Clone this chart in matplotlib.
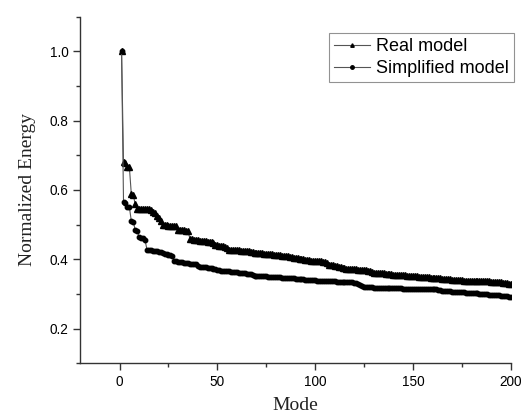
import numpy as np
import matplotlib
matplotlib.use("Agg")
import matplotlib.pyplot as plt
from matplotlib.ticker import MultipleLocator

# normalized energy per mode
real_model = [
    1.000, 0.680, 0.678, 0.667, 0.665, 0.587, 0.585, 0.558,
    0.546, 0.546, 0.545, 0.545, 0.545, 0.544, 0.544, 0.543,
    0.535, 0.533, 0.525, 0.520, 0.510,
    0.499, 0.498, 0.498, 0.497, 0.497, 0.496, 0.496, 0.495,
    0.485, 0.484, 0.484, 0.483, 0.482, 0.481,
    0.458, 0.457, 0.456, 0.455, 0.455, 0.454, 0.453, 0.453, 0.452, 0.451, 0.450, 0.449, 0.446,
    0.442, 0.440, 0.439, 0.438, 0.437, 0.436, 0.432,
    0.428, 0.428, 0.427, 0.427, 0.426, 0.426, 0.425, 0.425, 0.424, 0.424, 0.423, 0.422, 0.421,
    0.419, 0.419, 0.418, 0.418, 0.417, 0.416, 0.415, 0.415, 0.414, 0.414, 0.413, 0.413, 0.412, 0.412,
    0.410, 0.409, 0.409, 0.408, 0.407, 0.406, 0.405, 0.404, 0.403, 0.402, 0.401, 0.400, 0.399, 0.399, 0.398,
    0.396, 0.396, 0.395, 0.395, 0.394, 0.394, 0.393, 0.392, 0.390,
    0.384, 0.383, 0.382, 0.381, 0.380, 0.379, 0.378, 0.376,
    0.374, 0.373, 0.373, 0.372, 0.372, 0.371, 0.371, 0.370, 0.370, 0.369, 0.369, 0.368, 0.367, 0.365,
    0.362, 0.361, 0.361, 0.360, 0.360, 0.359, 0.359, 0.358, 0.358, 0.357, 0.357,
    0.356, 0.356, 0.355, 0.355, 0.355, 0.354, 0.354, 0.353, 0.353, 0.352, 0.352,
    0.351, 0.351, 0.350, 0.350, 0.349, 0.349, 0.348, 0.348, 0.347, 0.347,
    0.346, 0.346, 0.345, 0.345, 0.344, 0.344, 0.343, 0.343, 0.342, 0.341,
    0.339, 0.339, 0.339, 0.339, 0.339, 0.338, 0.338, 0.338, 0.338, 0.338, 0.338,
    0.337, 0.337, 0.337, 0.337, 0.337, 0.337, 0.336, 0.336, 0.335, 0.335,
    0.334, 0.334, 0.333, 0.333, 0.332, 0.332, 0.331, 0.330, 0.329,
]

simplified_model = [
    1.000, 0.565, 0.563, 0.552, 0.550, 0.510, 0.508, 0.484, 0.482,
    0.463, 0.462, 0.461, 0.455,
    0.428, 0.427, 0.426, 0.425, 0.424, 0.423, 0.421, 0.420, 0.418, 0.416, 0.415, 0.413, 0.412, 0.410,
    0.396, 0.395, 0.393, 0.392, 0.391, 0.390, 0.389, 0.388, 0.387, 0.387, 0.386, 0.385,
    0.380, 0.379, 0.378, 0.377, 0.377, 0.376, 0.375, 0.374, 0.373, 0.372, 0.370,
    0.368, 0.367, 0.367, 0.366, 0.366, 0.365, 0.364, 0.364, 0.363, 0.362,
    0.361, 0.360, 0.360, 0.359, 0.358, 0.357, 0.357, 0.356,
    0.353, 0.353, 0.352, 0.352, 0.352, 0.351, 0.351, 0.350, 0.350, 0.349,
    0.349, 0.349, 0.348, 0.348, 0.347, 0.347, 0.346, 0.346, 0.345, 0.345,
    0.345, 0.344, 0.344, 0.343, 0.342, 0.342,
    0.340, 0.340, 0.340, 0.339, 0.339, 0.339, 0.338, 0.338, 0.338, 0.338,
    0.337, 0.337, 0.337, 0.336, 0.336, 0.336, 0.335, 0.335, 0.335,
    0.334, 0.334, 0.334, 0.333, 0.333, 0.333, 0.332, 0.332,
    0.328, 0.325, 0.322, 0.321, 0.320, 0.320, 0.319, 0.319, 0.318,
    0.318, 0.318, 0.318, 0.317, 0.317, 0.317, 0.317, 0.317,
    0.316, 0.316, 0.316, 0.316, 0.316, 0.316, 0.315, 0.315, 0.315, 0.315, 0.315, 0.315,
    0.314, 0.314, 0.314, 0.314, 0.314, 0.314, 0.313, 0.313, 0.313, 0.313, 0.313, 0.313,
    0.312, 0.312,
    0.309, 0.309, 0.308, 0.308, 0.308, 0.307, 0.307, 0.306, 0.306, 0.306,
    0.305, 0.305, 0.304, 0.304, 0.304, 0.303, 0.303, 0.302, 0.302, 0.301,
    0.300, 0.300, 0.299, 0.299, 0.298, 0.298, 0.297, 0.297, 0.296, 0.296,
    0.295, 0.294, 0.294, 0.293, 0.292, 0.291,
]

series_labels = ["Real model", "Simplified model"]

fig = plt.figure(figsize=(5.22, 4.17), dpi=100)
ax = fig.add_axes([0.1542, 0.1288, 0.8242, 0.8316])

modes_real = np.arange(1, len(real_model) + 1)
modes_simp = np.arange(1, len(simplified_model) + 1)

ax.plot(modes_real, real_model, color="#555555", lw=0.8, marker="^", markersize=3.8,
        markerfacecolor="black", markeredgecolor="black", label=series_labels[0])
ax.plot(modes_simp, simplified_model, color="#555555", lw=0.8, marker="o", markersize=3.2,
        markerfacecolor="black", markeredgecolor="black", label=series_labels[1])

ax.set_xlim(-20, 200)
ax.set_ylim(0.1, 1.1)
ax.xaxis.set_minor_locator(MultipleLocator(25))
ax.yaxis.set_minor_locator(MultipleLocator(0.1))
ax.set_xticks([0, 50, 100, 150, 200])
ax.set_yticks([0.2, 0.4, 0.6, 0.8, 1.0])

for side in ["top", "right"]:
    ax.spines[side].set_visible(False)
for side in ["left", "bottom"]:
    ax.spines[side].set_color("#333333")
    ax.spines[side].set_linewidth(1.0)

ax.tick_params(which="major", direction="out", length=5, width=1, color="#333333",
               labelsize=9.8, labelcolor="#000000")
ax.tick_params(which="minor", direction="out", length=3, width=1, color="#333333")
for lab in ax.get_xticklabels() + ax.get_yticklabels():
    lab.set_family("Liberation Sans")

ax.set_xlabel("Mode", family="Liberation Serif", fontsize=14, color="#222222", labelpad=6)
ax.set_ylabel("Normalized Energy", family="Liberation Serif", fontsize=14, color="#222222",
              labelpad=10)

leg = ax.legend(loc="upper right", bbox_to_anchor=(514 / 522, 1 - 33 / 417),
                bbox_transform=fig.transFigure, prop={"family": "Liberation Sans", "size": 13},
                fancybox=False, frameon=True, borderpad=0.3, labelspacing=0.25,
                handlelength=2.0, handletextpad=0.3, borderaxespad=0)
leg.get_frame().set_edgecolor("#777777")
leg.get_frame().set_linewidth(0.8)
for h in leg.legend_handles:
    h.set_markersize(2.5)

fig.savefig("out.png", dpi=100)
